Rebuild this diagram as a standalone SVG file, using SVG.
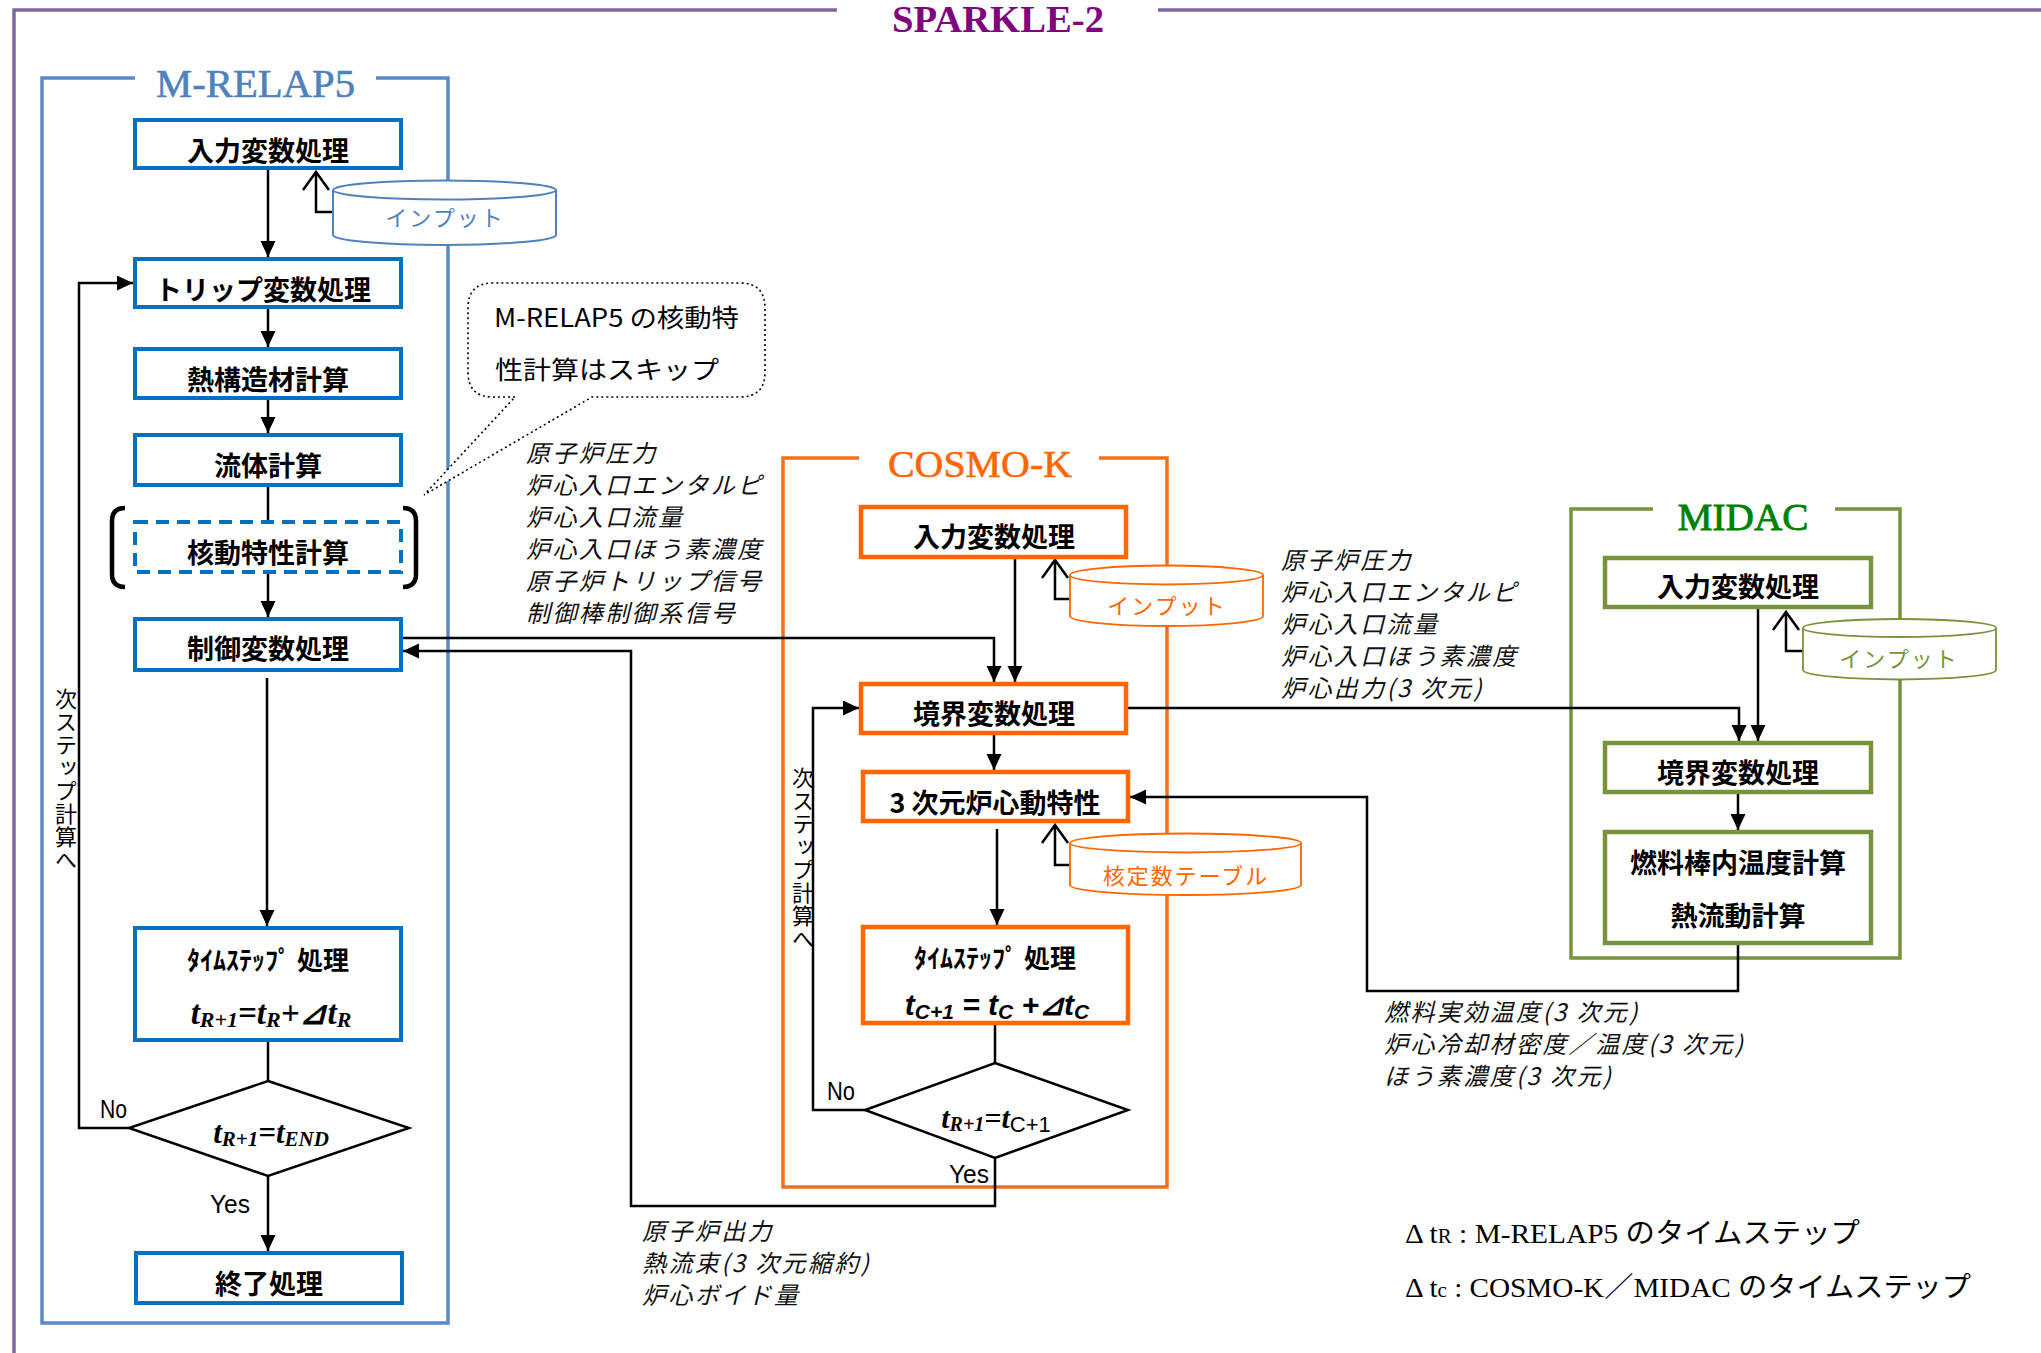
<svg xmlns="http://www.w3.org/2000/svg" width="2041" height="1353" viewBox="0 0 2041 1353">
<defs>
<marker id="ah" markerUnits="userSpaceOnUse" markerWidth="17" markerHeight="16" refX="16" refY="7.5" orient="auto">
<path d="M0,0 L16,7.5 L0,15 z" fill="#000"/>
</marker>
<style>
.bxR{fill:#fff;stroke:#0070C0;stroke-width:4}
.bxC{fill:#fff;stroke:#FF6600;stroke-width:4.5}
.bxM{fill:#fff;stroke:#77933C;stroke-width:4.5}
.jb{font-family:"Noto Sans CJK JP","Noto Sans CJK SC",sans-serif;font-weight:bold;font-size:27px;text-anchor:middle;fill:#000}
.lbl{font-family:"Noto Sans CJK JP","Noto Sans CJK SC",sans-serif;font-style:italic;font-size:24px;letter-spacing:2.4px;fill:#111}
.cn{fill:none;stroke:#000;stroke-width:2.5}
.ar{marker-end:url(#ah)}
.ttl{font-family:"Liberation Serif",serif;text-anchor:middle}
.yn{font-family:"Liberation Sans",sans-serif;font-size:26px;fill:#000}
.vt{font-family:"Noto Sans CJK JP",sans-serif;font-size:22px;fill:#000;writing-mode:vertical-rl;letter-spacing:1px}
.cyl{font-family:"Noto Sans CJK JP",sans-serif;font-size:22px;text-anchor:middle;letter-spacing:2px}
.ts{font-family:"Noto Sans CJK JP",sans-serif;font-weight:bold;font-size:26px;text-anchor:middle}
.fR{font-family:"Liberation Serif",serif;font-style:italic;font-weight:bold;text-anchor:middle}
.fC{font-family:"Liberation Sans",sans-serif;font-style:italic;font-weight:bold;text-anchor:middle}
.leg{font-family:"Liberation Serif","Noto Sans CJK JP",serif;font-size:28px;fill:#000}
</style>
</defs>
<rect width="2041" height="1353" fill="#fff"/>

<!-- outer SPARKLE-2 frame -->
<g id="sparkle">
<path d="M14,1353 V10 H837 M1158,10 H2041" fill="none" stroke="#8064A2" stroke-width="3.5"/>
<text class="ttl" x="998" y="32" font-size="38" font-weight="bold" fill="#800080" textLength="212" lengthAdjust="spacingAndGlyphs">SPARKLE-2</text>
</g>

<!-- module frames -->
<g id="frame-mrelap5">
<path d="M135,78 H42 V1323 H448 V78 H376" fill="none" stroke="#5A8AC6" stroke-width="3.5"/>
<text class="ttl" x="255.5" y="97" font-size="40" fill="#4F81BD" stroke="#4F81BD" stroke-width="0.6" textLength="199" lengthAdjust="spacingAndGlyphs">M-RELAP5</text>
</g>
<g id="frame-cosmok">
<path d="M859,458 H783 V1187 H1167 V458 H1099" fill="none" stroke="#F07020" stroke-width="3.5"/>
<text class="ttl" x="980" y="477" font-size="38" fill="#FF6600" stroke="#FF6600" stroke-width="0.6" textLength="184" lengthAdjust="spacingAndGlyphs">COSMO-K</text>
</g>
<g id="frame-midac">
<path d="M1653,509 H1571 V958 H1900 V509 H1835" fill="none" stroke="#77933C" stroke-width="3.5"/>
<text class="ttl" x="1743" y="530" font-size="38" fill="#008000" stroke="#008000" stroke-width="0.8" textLength="131" lengthAdjust="spacingAndGlyphs">MIDAC</text>
</g>

<!-- connectors -->
<g id="connectors">
<path class="cn ar" d="M268,168 V257"/>
<path class="cn ar" d="M268,307 V347"/>
<path class="cn ar" d="M268,398 V433"/>
<path class="cn" d="M268,485 V522"/>
<path class="cn ar" d="M268,572 V617"/>
<path class="cn ar" d="M267,678 V926"/>
<path class="cn" d="M268,1040 V1081"/>
<path class="cn ar" d="M268,1176 V1251"/>
<path class="cn ar" d="M129,1128 H79 V283 H133"/>
<path class="cn" d="M333,212 H316 V172 M303,190 L316,172 L329,190"/>

<path class="cn ar" d="M401,638 H994 V682"/>
<path class="cn ar" d="M995,1158 V1206 H631 V651 H403"/>
<path class="cn ar" d="M1015,557 V682"/>
<path class="cn ar" d="M994,733 V770"/>
<path class="cn ar" d="M997,829 V925"/>
<path class="cn" d="M995,1023 V1063"/>
<path class="cn ar" d="M865,1110 H813 V708 H859"/>
<path class="cn" d="M1070,599 H1055 V560 M1042,578 L1055,560 L1068,578"/>
<path class="cn" d="M1070,865 H1055 V825 M1042,843 L1055,825 L1068,843"/>
<path class="cn ar" d="M1126,708 H1739 V741"/>

<path class="cn ar" d="M1758,607 V741"/>
<path class="cn ar" d="M1738,792 V830"/>
<path class="cn ar" d="M1738,943 V991 H1367 V797 H1130"/>
<path class="cn" d="M1803,651 H1786 V612 M1773,630 L1786,612 L1799,630"/>
</g>

<!-- M-RELAP5 nodes -->
<g id="r-input"><rect class="bxR" x="135" y="120" width="266" height="48"/><text class="jb" x="268" y="161">入力変数処理</text></g>
<g id="r-input-data">
<path d="M333,190 A111.5,9.5 0 0 1 556,190 V235 A111.5,10 0 0 1 333,235 Z" fill="#fff" stroke="#4F81BD" stroke-width="2"/>
<path d="M333,190 A111.5,9.5 0 0 0 556,190" fill="none" stroke="#4F81BD" stroke-width="2"/>
<text class="cyl" x="445" y="226" fill="#4F81BD">インプット</text>
</g>
<g id="r-trip"><rect class="bxR" x="135" y="259" width="266" height="48"/><text class="jb" x="263" y="300">トリップ変数処理</text></g>
<g id="r-heat"><rect class="bxR" x="135" y="349" width="266" height="49"/><text class="jb" x="268" y="390">熱構造材計算</text></g>
<g id="r-fluid"><rect class="bxR" x="135" y="435" width="266" height="50"/><text class="jb" x="268" y="476">流体計算</text></g>
<g id="r-kinetics">
<rect x="135" y="522" width="266" height="50" fill="#fff" stroke="#0070C0" stroke-width="4" stroke-dasharray="13,8"/>
<path d="M125,508 Q112,508 112,521 V574 Q112,587 125,587 M403,508 Q416,508 416,521 V574 Q416,587 403,587" fill="none" stroke="#000" stroke-width="4.5"/>
<text class="jb" x="268" y="563">核動特性計算</text>
</g>
<g id="r-control"><rect class="bxR" x="135" y="619" width="266" height="51"/><text class="jb" x="268" y="659">制御変数処理</text></g>
<g id="r-timestep">
<rect class="bxR" x="135" y="928" width="266" height="112"/>
<text class="ts" x="268" y="970">ﾀｲﾑｽﾃｯﾌﾟ 処理</text>
<text class="fR" x="271" y="1024" font-size="33">t<tspan font-size="22" dy="3">R+1</tspan><tspan dy="-3">=t</tspan><tspan font-size="22" dy="3">R</tspan><tspan dy="-3">+⊿t</tspan><tspan font-size="22" dy="3">R</tspan></text>
</g>
<g id="r-decision">
<path d="M268,1081 L409,1128 L268,1176 L129,1128 Z" fill="#fff" stroke="#000" stroke-width="2.5"/>
<text class="fR" x="271" y="1143" font-size="31">t<tspan font-size="21" dy="3">R+1</tspan><tspan dy="-3">=t</tspan><tspan font-size="21" dy="3">END</tspan></text>
</g>
<g id="r-end"><rect class="bxR" x="136" y="1253" width="266" height="50"/><text class="jb" x="269" y="1294">終了処理</text></g>

<!-- COSMO-K nodes -->
<g id="c-input"><rect class="bxC" x="861" y="507" width="265" height="50"/><text class="jb" x="994" y="547">入力変数処理</text></g>
<g id="c-input-data">
<path d="M1070,575 A96.5,9.5 0 0 1 1263,575 V616 A96.5,10 0 0 1 1070,616 Z" fill="#fff" stroke="#FF6600" stroke-width="1.8"/>
<path d="M1070,575 A96.5,9.5 0 0 0 1263,575" fill="none" stroke="#FF6600" stroke-width="1.8"/>
<text class="cyl" x="1167" y="614" fill="#FF6600">インプット</text>
</g>
<g id="c-boundary"><rect class="bxC" x="861" y="684" width="265" height="49"/><text class="jb" x="994" y="724">境界変数処理</text></g>
<g id="c-3d"><rect class="bxC" x="863" y="772" width="265" height="49"/><text class="jb" x="995" y="813">3 次元炉心動特性</text></g>
<g id="c-table">
<path d="M1070,843 A115.5,9.5 0 0 1 1301,843 V885 A115.5,10 0 0 1 1070,885 Z" fill="#fff" stroke="#FF6600" stroke-width="1.8"/>
<path d="M1070,843 A115.5,9.5 0 0 0 1301,843" fill="none" stroke="#FF6600" stroke-width="1.8"/>
<text class="cyl" x="1186" y="884" fill="#FF6600" letter-spacing="0">核定数テーブル</text>
</g>
<g id="c-timestep">
<rect class="bxC" x="863" y="927" width="265" height="96"/>
<text class="ts" x="995" y="968">ﾀｲﾑｽﾃｯﾌﾟ 処理</text>
<text class="fC" x="997" y="1015" font-size="30">t<tspan font-size="21" dy="4">C+1</tspan><tspan dy="-4"> = t</tspan><tspan font-size="21" dy="4">C</tspan><tspan dy="-4"> +⊿t</tspan><tspan font-size="21" dy="4">C</tspan></text>
</g>
<g id="c-decision">
<path d="M995,1063 L1128,1110 L995,1158 L865,1110 Z" fill="#fff" stroke="#000" stroke-width="2.5"/>
<text x="996" y="1128" text-anchor="middle" font-size="30"><tspan font-family="Liberation Serif" font-style="italic" font-weight="bold">t</tspan><tspan font-family="Liberation Serif" font-style="italic" font-weight="bold" font-size="20" dy="3">R+1</tspan><tspan font-family="Liberation Serif" font-style="italic" font-weight="bold" dy="-3">=t</tspan><tspan font-family="Liberation Sans" font-size="22" dy="4">C+1</tspan></text>
</g>

<!-- MIDAC nodes -->
<g id="m-input"><rect class="bxM" x="1605" y="558" width="266" height="49"/><text class="jb" x="1738" y="597">入力変数処理</text></g>
<g id="m-input-data">
<path d="M1803,628 A96.5,9 0 0 1 1996,628 V670 A96.5,9.5 0 0 1 1803,670 Z" fill="#fff" stroke="#77933C" stroke-width="1.8"/>
<path d="M1803,628 A96.5,9 0 0 0 1996,628" fill="none" stroke="#77933C" stroke-width="1.8"/>
<text class="cyl" x="1899" y="667" fill="#77933C">インプット</text>
</g>
<g id="m-boundary"><rect class="bxM" x="1605" y="743" width="266" height="49"/><text class="jb" x="1738" y="783">境界変数処理</text></g>
<g id="m-fuel">
<rect class="bxM" x="1605" y="832" width="266" height="111"/>
<text class="jb" x="1738" y="873">燃料棒内温度計算</text>
<text class="jb" x="1738" y="926">熱流動計算</text>
</g>

<!-- callout -->
<g id="callout">
<path d="M515,397 H493 Q468,397 468,372 V308 Q468,283 493,283 H740 Q765,283 765,308 V372 Q765,397 740,397 H592 L424,495 Z" fill="#fff" stroke="#000" stroke-width="1.6" stroke-dasharray="2,3"/>
<text x="494" y="327" font-family="Noto Sans CJK JP,sans-serif" font-size="25" textLength="245" lengthAdjust="spacingAndGlyphs">M-RELAP5 の核動特</text>
<text x="495" y="379" font-family="Noto Sans CJK JP,sans-serif" font-size="25" textLength="224" lengthAdjust="spacingAndGlyphs">性計算はスキップ</text>
</g>

<!-- labels -->
<g id="labels">
<text class="lbl" x="526" y="462">原子炉圧力</text>
<text class="lbl" x="526" y="494">炉心入口エンタルピ</text>
<text class="lbl" x="526" y="526">炉心入口流量</text>
<text class="lbl" x="526" y="558">炉心入口ほう素濃度</text>
<text class="lbl" x="526" y="590">原子炉トリップ信号</text>
<text class="lbl" x="526" y="622">制御棒制御系信号</text>

<text class="lbl" x="1281" y="569">原子炉圧力</text>
<text class="lbl" x="1281" y="601">炉心入口エンタルピ</text>
<text class="lbl" x="1281" y="633">炉心入口流量</text>
<text class="lbl" x="1281" y="665">炉心入口ほう素濃度</text>
<text class="lbl" x="1281" y="697">炉心出力(3 次元)</text>

<text class="lbl" x="1384" y="1021" letter-spacing="1.5">燃料実効温度(3 次元)</text>
<text class="lbl" x="1384" y="1053" letter-spacing="1.5">炉心冷却材密度／温度(3 次元)</text>
<text class="lbl" x="1384" y="1085" letter-spacing="1.5">ほう素濃度(3 次元)</text>

<text class="lbl" x="642" y="1240" letter-spacing="1.5">原子炉出力</text>
<text class="lbl" x="642" y="1272" letter-spacing="1.5">熱流束(3 次元縮約)</text>
<text class="lbl" x="642" y="1304" letter-spacing="1.5">炉心ボイド量</text>

<text class="yn" x="100" y="1118" textLength="27" lengthAdjust="spacingAndGlyphs">No</text>
<text class="yn" x="210" y="1213" textLength="40" lengthAdjust="spacingAndGlyphs">Yes</text>
<text class="yn" x="827" y="1100" textLength="28" lengthAdjust="spacingAndGlyphs">No</text>
<text class="yn" x="949" y="1183" textLength="40" lengthAdjust="spacingAndGlyphs">Yes</text>

<text class="vt" x="66" y="688">次ステップ計算へ</text>
<text class="vt" x="803" y="767">次ステップ計算へ</text>

<text class="leg" x="1405" y="1243" textLength="455" lengthAdjust="spacingAndGlyphs">Δ t<tspan font-size="20">R</tspan> : M-RELAP5 のタイムステップ</text>
<text class="leg" x="1405" y="1297" textLength="566" lengthAdjust="spacingAndGlyphs">Δ t<tspan font-size="20">c</tspan> : COSMO-K／MIDAC のタイムステップ</text>
</g>
</svg>
